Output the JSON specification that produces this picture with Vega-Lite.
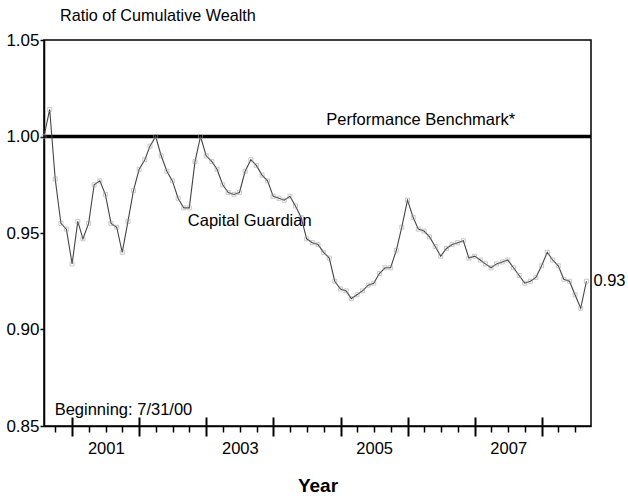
{
  "$schema": "https://vega.github.io/schema/vega-lite/v6.json",
  "width": 547,
  "height": 386,
  "autosize": {"type": "none"},
  "padding": {"left": 44, "top": 40, "right": 37, "bottom": 73},
  "config": {
    "view": {"stroke": "black", "strokeWidth": 1.5},
    "font": "Liberation Sans",
    "text": {"font": "Liberation Sans", "color": "black"}
  },
  "title": {"text": "Ratio of Cumulative Wealth", "anchor": "start", "frame": "group", "dx": 16, "offset": 7, "fontSize": 16.2, "fontWeight": "normal", "font": "Liberation Sans", "color": "black"},
  "datasets": {
    "cg": [
      {"date": "2000-07-31", "value": 1.000},
      {"date": "2000-08-31", "value": 1.014},
      {"date": "2000-09-30", "value": 0.978},
      {"date": "2000-10-31", "value": 0.955},
      {"date": "2000-11-30", "value": 0.952},
      {"date": "2000-12-31", "value": 0.934},
      {"date": "2001-01-31", "value": 0.956},
      {"date": "2001-02-28", "value": 0.947},
      {"date": "2001-03-31", "value": 0.955},
      {"date": "2001-04-30", "value": 0.975},
      {"date": "2001-05-31", "value": 0.977},
      {"date": "2001-06-30", "value": 0.970},
      {"date": "2001-07-31", "value": 0.955},
      {"date": "2001-08-31", "value": 0.953},
      {"date": "2001-09-30", "value": 0.940},
      {"date": "2001-10-31", "value": 0.956},
      {"date": "2001-11-30", "value": 0.972},
      {"date": "2001-12-31", "value": 0.983},
      {"date": "2002-01-31", "value": 0.988},
      {"date": "2002-02-28", "value": 0.995},
      {"date": "2002-03-31", "value": 1.000},
      {"date": "2002-04-30", "value": 0.990},
      {"date": "2002-05-31", "value": 0.982},
      {"date": "2002-06-30", "value": 0.977},
      {"date": "2002-07-31", "value": 0.968},
      {"date": "2002-08-31", "value": 0.963},
      {"date": "2002-09-30", "value": 0.963},
      {"date": "2002-10-31", "value": 0.987},
      {"date": "2002-11-30", "value": 1.000},
      {"date": "2002-12-31", "value": 0.990},
      {"date": "2003-01-31", "value": 0.987},
      {"date": "2003-02-28", "value": 0.983},
      {"date": "2003-03-31", "value": 0.975},
      {"date": "2003-04-30", "value": 0.971},
      {"date": "2003-05-31", "value": 0.970},
      {"date": "2003-06-30", "value": 0.971},
      {"date": "2003-07-31", "value": 0.982},
      {"date": "2003-08-31", "value": 0.988},
      {"date": "2003-09-30", "value": 0.985},
      {"date": "2003-10-31", "value": 0.980},
      {"date": "2003-11-30", "value": 0.977},
      {"date": "2003-12-31", "value": 0.969},
      {"date": "2004-01-31", "value": 0.968},
      {"date": "2004-02-29", "value": 0.967},
      {"date": "2004-03-31", "value": 0.969},
      {"date": "2004-04-30", "value": 0.964},
      {"date": "2004-05-31", "value": 0.958},
      {"date": "2004-06-30", "value": 0.947},
      {"date": "2004-07-31", "value": 0.945},
      {"date": "2004-08-31", "value": 0.944},
      {"date": "2004-09-30", "value": 0.940},
      {"date": "2004-10-31", "value": 0.937},
      {"date": "2004-11-30", "value": 0.925},
      {"date": "2004-12-31", "value": 0.921},
      {"date": "2005-01-31", "value": 0.920},
      {"date": "2005-02-28", "value": 0.916},
      {"date": "2005-03-31", "value": 0.918},
      {"date": "2005-04-30", "value": 0.920},
      {"date": "2005-05-31", "value": 0.923},
      {"date": "2005-06-30", "value": 0.924},
      {"date": "2005-07-31", "value": 0.929},
      {"date": "2005-08-31", "value": 0.932},
      {"date": "2005-09-30", "value": 0.932},
      {"date": "2005-10-31", "value": 0.941},
      {"date": "2005-11-30", "value": 0.953},
      {"date": "2005-12-31", "value": 0.967},
      {"date": "2006-01-31", "value": 0.958},
      {"date": "2006-02-28", "value": 0.952},
      {"date": "2006-03-31", "value": 0.951},
      {"date": "2006-04-30", "value": 0.948},
      {"date": "2006-05-31", "value": 0.943},
      {"date": "2006-06-30", "value": 0.938},
      {"date": "2006-07-31", "value": 0.942},
      {"date": "2006-08-31", "value": 0.944},
      {"date": "2006-09-30", "value": 0.945},
      {"date": "2006-10-31", "value": 0.946},
      {"date": "2006-11-30", "value": 0.937},
      {"date": "2006-12-31", "value": 0.938},
      {"date": "2007-01-31", "value": 0.936},
      {"date": "2007-02-28", "value": 0.934},
      {"date": "2007-03-31", "value": 0.932},
      {"date": "2007-04-30", "value": 0.934},
      {"date": "2007-05-31", "value": 0.935},
      {"date": "2007-06-30", "value": 0.936},
      {"date": "2007-07-31", "value": 0.932},
      {"date": "2007-08-31", "value": 0.928},
      {"date": "2007-09-30", "value": 0.924},
      {"date": "2007-10-31", "value": 0.925},
      {"date": "2007-11-30", "value": 0.927},
      {"date": "2007-12-31", "value": 0.933},
      {"date": "2008-01-31", "value": 0.940},
      {"date": "2008-02-29", "value": 0.936},
      {"date": "2008-03-31", "value": 0.933},
      {"date": "2008-04-30", "value": 0.926},
      {"date": "2008-05-31", "value": 0.925},
      {"date": "2008-06-30", "value": 0.918},
      {"date": "2008-07-31", "value": 0.911},
      {"date": "2008-08-31", "value": 0.925}
    ],
    "centered": [
      {"date": "2006-03-13", "value": 1.0059, "label": "Performance Benchmark*"},
      {"date": "2003-08-25", "value": 0.9535, "label": "Capital Guardian"}
    ],
    "leftnotes": [
      {"date": "2000-09-27", "value": 0.8559, "label": "Beginning:  7/31/00"}
    ],
    "endnote": [
      {"date": "2008-08-31", "value": 0.925, "label": "0.93"}
    ]
  },
  "layer": [
    {
      "data": {"values": [{"bench": 1.0}]},
      "mark": {"type": "rule", "color": "black", "strokeWidth": 3.5},
      "encoding": {
        "y": {"field": "bench", "type": "quantitative", "scale": {"domain": [0.85, 1.05], "nice": false, "zero": false}, "axis": {
          "values": [0.85, 0.9, 0.95, 1.0, 1.05], "format": ".2f", "tickSize": 4, "tickColor": "black", "tickWidth": 1.5,
          "labelPadding": 1, "labelFontSize": 17, "labelColor": "black", "labelFont": "Liberation Sans",
          "domainColor": "black", "domainWidth": 1.5, "title": null, "grid": false
        }}
      }
    },
    {
      "data": {"name": "cg"},
      "mark": {"type": "line", "color": "#444", "strokeWidth": 1.1},
      "encoding": {
        "x": {"field": "date", "type": "temporal",
          "scale": {"type": "utc", "domain": [{"year": 2000, "month": 7, "date": 31, "utc": true}, {"year": 2008, "month": 9, "date": 25, "utc": true}]},
          "axis": {
            "orient": "bottom",
            "values": [
              {"year": 2000, "month": 10, "date": 1, "utc": true},
              {"year": 2001, "month": 1, "date": 1, "utc": true}, {"year": 2001, "month": 4, "date": 1, "utc": true}, {"year": 2001, "month": 7, "date": 1, "utc": true}, {"year": 2001, "month": 10, "date": 1, "utc": true},
              {"year": 2002, "month": 1, "date": 1, "utc": true}, {"year": 2002, "month": 4, "date": 1, "utc": true}, {"year": 2002, "month": 7, "date": 1, "utc": true}, {"year": 2002, "month": 10, "date": 1, "utc": true},
              {"year": 2003, "month": 1, "date": 1, "utc": true}, {"year": 2003, "month": 4, "date": 1, "utc": true}, {"year": 2003, "month": 7, "date": 1, "utc": true}, {"year": 2003, "month": 10, "date": 1, "utc": true},
              {"year": 2004, "month": 1, "date": 1, "utc": true}, {"year": 2004, "month": 4, "date": 1, "utc": true}, {"year": 2004, "month": 7, "date": 1, "utc": true}, {"year": 2004, "month": 10, "date": 1, "utc": true},
              {"year": 2005, "month": 1, "date": 1, "utc": true}, {"year": 2005, "month": 4, "date": 1, "utc": true}, {"year": 2005, "month": 7, "date": 1, "utc": true}, {"year": 2005, "month": 10, "date": 1, "utc": true},
              {"year": 2006, "month": 1, "date": 1, "utc": true}, {"year": 2006, "month": 4, "date": 1, "utc": true}, {"year": 2006, "month": 7, "date": 1, "utc": true}, {"year": 2006, "month": 10, "date": 1, "utc": true},
              {"year": 2007, "month": 1, "date": 1, "utc": true}, {"year": 2007, "month": 4, "date": 1, "utc": true}, {"year": 2007, "month": 7, "date": 1, "utc": true}, {"year": 2007, "month": 10, "date": 1, "utc": true},
              {"year": 2008, "month": 1, "date": 1, "utc": true}, {"year": 2008, "month": 4, "date": 1, "utc": true}, {"year": 2008, "month": 7, "date": 1, "utc": true}
            ],
            "format": "%Y",
            "labelExpr": "utcmonth(datum.value) == 0 && utcyear(datum.value) % 2 == 1 ? datum.label : ''",
            "labelOffset": 33.5,
            "labelOverlap": false,
            "labelFlush": false,
            "labelPadding": 4,
            "labelFontSize": 16.5,
            "labelColor": "black",
            "labelFont": "Liberation Sans",
            "tickSize": {"condition": {"test": "utcmonth(datum.value) == 0", "value": 10}, "value": 6},
            "tickWidth": {"condition": {"test": "utcmonth(datum.value) == 0", "value": 2}, "value": 1.5},
            "tickColor": "black",
            "domainColor": "black",
            "domainWidth": 1.5,
            "grid": false,
            "title": "Year",
            "titleFontSize": 19,
            "titleFontWeight": "bold",
            "titleColor": "black",
            "titleFont": "Liberation Sans",
            "titlePadding": 20
          }},
        "y": {"field": "value", "type": "quantitative", "scale": {"domain": [0.85, 1.05], "nice": false, "zero": false}}
      }
    },
    {
      "data": {"name": "cg"},
      "mark": {"type": "point", "shape": "square", "filled": false, "color": "#a0a0a0", "size": 16, "strokeWidth": 0.8},
      "encoding": {
        "x": {"field": "date", "type": "temporal", "axis": {
          "orient": "top",
          "offset": -386,
          "values": [
            {"year": 2001, "month": 1, "date": 1, "utc": true}, {"year": 2002, "month": 1, "date": 1, "utc": true},
            {"year": 2003, "month": 1, "date": 1, "utc": true}, {"year": 2004, "month": 1, "date": 1, "utc": true},
            {"year": 2005, "month": 1, "date": 1, "utc": true}, {"year": 2006, "month": 1, "date": 1, "utc": true},
            {"year": 2007, "month": 1, "date": 1, "utc": true}, {"year": 2008, "month": 1, "date": 1, "utc": true}
          ],
          "tickSize": 9, "tickWidth": 2, "tickColor": "black", "labels": false, "domain": false, "grid": false, "title": null
        }},
        "y": {"field": "value", "type": "quantitative", "scale": {"domain": [0.85, 1.05], "nice": false, "zero": false}}
      }
    },
    {
      "data": {"name": "centered"},
      "mark": {"type": "text", "fontSize": 16.5, "baseline": "alphabetic", "align": "center"},
      "encoding": {
        "x": {"field": "date", "type": "temporal", "axis": null},
        "y": {"field": "value", "type": "quantitative", "scale": {"domain": [0.85, 1.05], "nice": false, "zero": false}},
        "text": {"field": "label"}
      }
    },
    {
      "data": {"name": "leftnotes"},
      "mark": {"type": "text", "fontSize": 16.5, "baseline": "alphabetic", "align": "left"},
      "encoding": {
        "x": {"field": "date", "type": "temporal", "axis": null},
        "y": {"field": "value", "type": "quantitative", "scale": {"domain": [0.85, 1.05], "nice": false, "zero": false}},
        "text": {"field": "label"}
      }
    },
    {
      "data": {"name": "endnote"},
      "mark": {"type": "text", "fontSize": 16.5, "align": "left", "baseline": "middle", "dx": 7},
      "encoding": {
        "x": {"field": "date", "type": "temporal", "axis": null},
        "y": {"field": "value", "type": "quantitative", "scale": {"domain": [0.85, 1.05], "nice": false, "zero": false}},
        "text": {"field": "label"}
      }
    }
  ],
  "resolve": {"axis": {"x": "independent"}}
}
